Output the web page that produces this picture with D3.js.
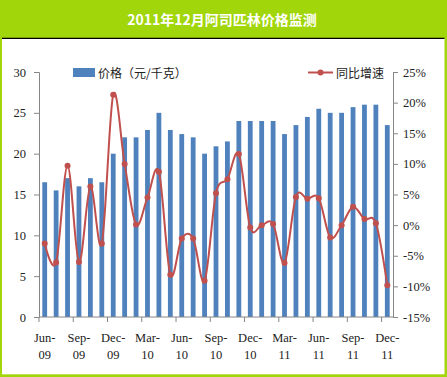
<!DOCTYPE html>
<html>
<head>
<meta charset="utf-8">
<script src="https://cdn.jsdelivr.net/npm/d3@7"></script>
<style>
  body { margin: 0; background: #a0d60a; }
  svg { display: block; }
  text { font-family: "Noto Sans CJK SC", "DejaVu Sans", sans-serif; }
  text.num { font-family: "Liberation Serif", "DejaVu Serif", serif; }
</style>
</head>
<body>
<div id="chart"></div>
<script>
// months Jun-09 .. Dec-11
const months = d3.range(31).map(i => i);
const tickLabels = [
    ["Jun-", "09"], ["Sep-", "09"], ["Dec-", "09"], ["Mar-", "10"], ["Jun-", "10"], ["Sep-", "10"],
    ["Dec-", "10"], ["Mar-", "11"], ["Jun-", "11"], ["Sep-", "11"], ["Dec-", "11"]
];
const price = [16.5, 15.5, 17, 16, 17, 16.5, 20, 22, 22, 22.9, 25, 22.9, 22.4, 22, 20, 20.9,
    21.5, 24, 24, 24, 24, 22.4, 23.5, 24.5, 25.5, 25, 25, 25.7, 26, 26, 23.5];
const growth = [-3.0, -6.1, 9.7, -6.0, 6.3, -3.0, 21.3, 10.0, 0.1, 4.5, 8.7, -8.1, -2.2, -2.2, -9.1, 5.2,
    7.5, 11.6, -0.4, 0.0, 0.2, -6.2, 4.6, 4.3, 4.4, -2.0, 0.0, 3.0, 1.0, 0.3, -9.8];
const leftTicks = [0, 5, 10, 15, 20, 25, 30];
const rightTicks = [-15, -10, -5, 0, 5, 10, 15, 20, 25];

const W = 447, H = 377;
const green = "#a0d60a", blue = "#4f81bd", red = "#c0504d", axisGrey = "#868686";

const svg = d3.select("#chart").append("svg")
    .attr("width", W).attr("height", H);

svg.append("rect").attr("width", W).attr("height", H).attr("fill", green);
svg.append("rect").attr("x", 2).attr("y", 38).attr("width", 442.5).attr("height", 336.3).attr("fill", "#fff");
svg.append("line").attr("x1", 2).attr("x2", 444.5).attr("y1", 38.3).attr("y2", 38.3)
    .attr("stroke", "#000").attr("stroke-width", 1.3);

svg.append("text")
    .attr("x", 222).attr("y", 25)
    .attr("text-anchor", "middle")
    .attr("fill", "#fff").attr("font-size", 14).attr("font-weight", "bold")
    .text("2011年12月阿司匹林价格监测");

const plotL = 39, plotR = 393, plotT = 72, plotB = 317;

const x = d3.scaleBand().domain(months).range([plotL, plotR]).paddingInner(0.58).paddingOuter(0.29);
const step = (plotR - plotL) / months.length;
const yL = d3.scaleLinear().domain([0, 30]).range([plotB, plotT]);
const yR = d3.scaleLinear().domain([-15, 25]).range([plotB, plotT]);

// bars
svg.append("g").selectAll("rect")
    .data(price)
    .enter().append("rect")
    .attr("x", (d, i) => x(i))
    .attr("y", d => yL(d))
    .attr("width", x.bandwidth())
    .attr("height", d => plotB - yL(d))
    .attr("fill", blue);

// axes
const axL = svg.append("g").attr("transform", `translate(${plotL},0)`)
    .call(d3.axisLeft(yL).tickValues(leftTicks).tickSize(5).tickPadding(8));
const axR = svg.append("g").attr("transform", `translate(${plotR},0)`)
    .call(d3.axisRight(yR).tickValues(rightTicks).tickSize(5).tickPadding(5).tickFormat(d => d + "%"));
[axL, axR].forEach(a => {
    a.select(".domain").attr("stroke", axisGrey);
    a.selectAll(".tick line").attr("stroke", axisGrey);
    a.selectAll(".tick text").attr("class", "num").attr("fill", "#222").attr("font-size", 12.5);
});

// x axis
const xa = svg.append("g");
xa.append("line").attr("x1", plotL).attr("x2", plotR).attr("y1", plotB).attr("y2", plotB)
    .attr("stroke", axisGrey);
const tickIdx = d3.range(0, 31, 3);
xa.selectAll("line.t").data(tickIdx).enter().append("line")
    .attr("class", "t")
    .attr("x1", d => plotL + d * step).attr("x2", d => plotL + d * step)
    .attr("y1", plotB).attr("y2", plotB + 5)
    .attr("stroke", axisGrey);
const lab = xa.selectAll("text").data(tickIdx).enter().append("text")
    .attr("class", "num")
    .attr("text-anchor", "middle")
    .attr("fill", "#222").attr("font-size", 12.5);
lab.append("tspan").attr("x", d => x(d) + x.bandwidth() / 2).attr("y", 342)
    .text((d, i) => tickLabels[i][0]);
lab.append("tspan").attr("x", d => x(d) + x.bandwidth() / 2).attr("y", 359)
    .text((d, i) => tickLabels[i][1]);

// line
const line = d3.line()
    .x((d, i) => x(i) + x.bandwidth() / 2)
    .y(d => yR(d))
    .curve(d3.curveCatmullRom.alpha(0));
svg.append("path").datum(growth)
    .attr("d", line)
    .attr("fill", "none").attr("stroke", red).attr("stroke-width", 2);
svg.append("g").selectAll("circle")
    .data(growth).enter().append("circle")
    .attr("cx", (d, i) => x(i) + x.bandwidth() / 2)
    .attr("cy", d => yR(d))
    .attr("r", 3)
    .attr("fill", red);

// legend
svg.append("rect").attr("x", 73).attr("y", 68).attr("width", 22).attr("height", 9).attr("fill", blue);
svg.append("text").attr("x", 98).attr("y", 77.5).attr("font-size", 12).attr("fill", "#222")
    .text("价格（元/千克）");
svg.append("line").attr("x1", 308).attr("x2", 333).attr("y1", 72.5).attr("y2", 72.5)
    .attr("stroke", red).attr("stroke-width", 2);
svg.append("circle").attr("cx", 320.5).attr("cy", 72.5).attr("r", 3).attr("fill", red);
svg.append("text").attr("x", 336).attr("y", 77.5).attr("font-size", 12).attr("fill", "#222")
    .text("同比增速");
</script>
</body>
</html>
